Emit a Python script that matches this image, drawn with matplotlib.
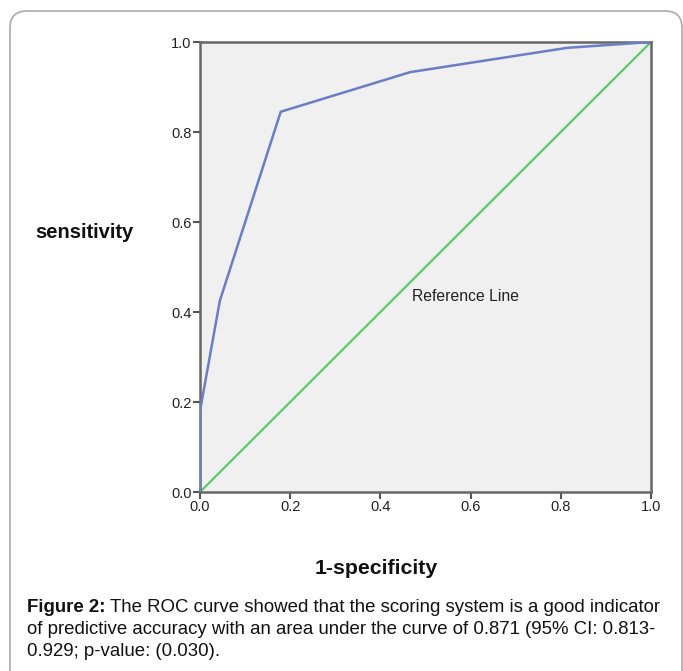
import matplotlib
matplotlib.use("Agg")
import matplotlib.pyplot as plt
from matplotlib.patches import FancyBboxPatch
from matplotlib import font_manager

# ROC curve points (1-specificity, sensitivity)
fpr = [0.0, 0.0, 0.044, 0.179, 0.466, 0.814, 1.0]
tpr = [0.0, 0.18, 0.425, 0.845, 0.933, 0.987, 1.0]
ref_x = [0.0, 1.0]
ref_y = [0.0, 1.0]
ticks = [0.0, 0.2, 0.4, 0.6, 0.8, 1.0]
tick_labels = ["0.0", "0.2", "0.4", "0.6", "0.8", "1.0"]

names = {f.name for f in font_manager.fontManager.ttflist}
narrow = "Liberation Sans Narrow" if "Liberation Sans Narrow" in names else "Liberation Sans"
cap_size = 12.5 if narrow == "Liberation Sans Narrow" else 13.4
plt.rcParams['font.family'] = ['Liberation Sans', 'DejaVu Sans']

W, H = 683, 671
fig = plt.figure(figsize=(W / 100, H / 100), dpi=100)

# === outer rounded frame ===
frame = FancyBboxPatch((10 / W, -0.05), (682 - 10) / W, (H - 11) / H + 0.05,
                       boxstyle="round,pad=0,rounding_size=0.025",
                       transform=fig.transFigure, facecolor="none",
                       edgecolor="#aaaaaa", linewidth=1.2)
fig.patches.append(frame)

# === plot area ===
ax = fig.add_axes([200 / W, 1 - 492 / H, (651 - 200) / W, (492 - 42) / H])
ax.set_facecolor("#f0f0f0")
ax.plot(ref_x, ref_y, color="#5ec96a", linewidth=1.6, zorder=2)
ax.plot(fpr, tpr, color="#6a7ec6", linewidth=1.8, zorder=3)
ax.text(0.47, 0.435, "Reference Line", fontsize=11.3, color="#222222",
        va="center", ha="left")

ax.set_xlim(0, 1)
ax.set_ylim(0, 1)
ax.set_xticks(ticks)
ax.set_xticklabels(tick_labels)
ax.set_yticks(ticks)
ax.set_yticklabels(tick_labels)
for s in ax.spines.values():
    s.set_color("#666666")
    s.set_linewidth(1.8)
ax.tick_params(direction="out", length=5, width=1.5, color="#555555",
               labelsize=10.5, labelcolor="#222222", pad=1)

fig.text(84 / W, 1 - 233 / H, "sensitivity", fontsize=14.5, fontweight="bold",
         ha="center", va="center", color="#111111")
fig.text(376 / W, 1 - 569 / H, "1-specificity", fontsize=15.3, fontweight="bold",
         ha="center", va="center", color="#111111")

# === caption ===
cap_x = 27 / W
t1 = fig.text(cap_x, 1 - 608 / H, "Figure 2:", fontsize=cap_size, fontweight="bold",
              family=narrow, va="center", ha="left", color="#111111")
fig.canvas.draw()
bb = t1.get_window_extent()
fig.text(bb.x1 / W + 4 / W, 1 - 608 / H,
         "The ROC curve showed that the scoring system is a good indicator",
         fontsize=cap_size, family=narrow, va="center", ha="left", color="#111111")
fig.text(cap_x, 1 - 630 / H,
         "of predictive accuracy with an area under the curve of 0.871 (95% CI: 0.813-",
         fontsize=cap_size, family=narrow, va="center", ha="left", color="#111111")
fig.text(cap_x, 1 - 652 / H, "0.929; p-value: (0.030).",
         fontsize=cap_size, family=narrow, va="center", ha="left", color="#111111")

fig.savefig("out.png", dpi=100)
